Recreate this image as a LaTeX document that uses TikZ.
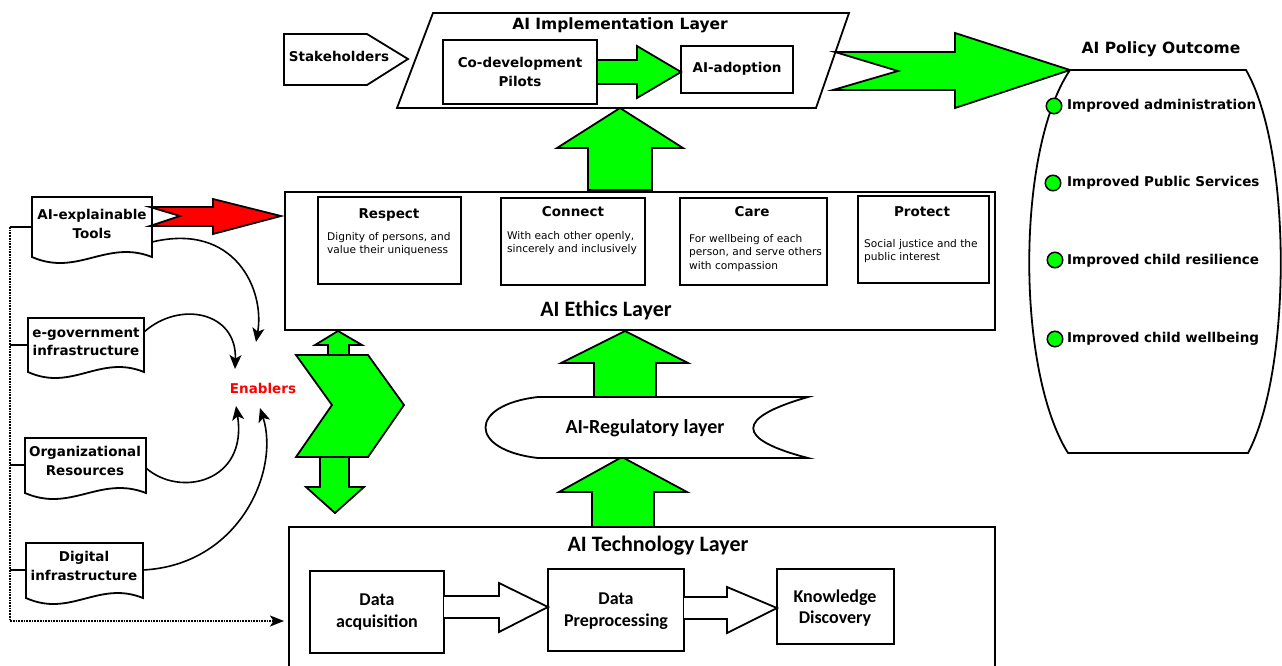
\documentclass[tikz,border=0pt]{standalone}
\usepackage{fontspec}
\setmainfont{DejaVu Sans}
\newfontfamily\calib{Carlito}
\usetikzlibrary{arrows.meta}
\definecolor{grn}{HTML}{00FF00}
\definecolor{rd}{HTML}{FF0000}
\newcommand\fs[1]{\fontsize{#1}{\dimexpr #1pt*6/5\relax}\selectfont}
\begin{document}
\begin{tikzpicture}[x=1pt,y=-1pt,
  ln/.style={draw=black,line width=1.8pt,line join=miter},
  garrow/.style={ln,fill=grn},
  warrow/.style={ln,fill=white},
  bx/.style={draw=black,line width=2pt,fill=white},
  blab/.style={font=\bfseries\fs{13.5},align=center,inner sep=0pt},
  ttl/.style={font=\bfseries\fs{15.5},inner sep=0pt},
  cal/.style={font=\calib\bfseries\fs{18},align=center,inner sep=0pt},
  desc/.style={font=\fontsize{10.6}{13.5}\selectfont,align=left,inner sep=0pt,anchor=north west},
  crv/.style={line width=1.6pt,-{Stealth[length=14pt,width=12pt,inset=3.5pt]}},
  bul/.style={circle,draw=black,line width=1.5pt,fill=grn,minimum size=15.5pt,inner sep=0pt}
]
\useasboundingbox (0,0) rectangle (1282,665);

% ---------- Implementation layer ----------
\draw[ln,fill=white] (433,13) -- (849,13) -- (816,108) -- (397,108) -- cycle;
\node[ttl] (impl) at (620,25) {AI Implementation Layer};
\draw[ln,fill=white] (284,34) -- (367,34) -- (408,59) -- (367,85) -- (284,85) -- cycle;
\node[blab] (stake) at (339,56) {Stakeholders};
\node[bx,minimum width=154pt,minimum height=64pt,blab] (codev) at (520,72) {Co-development\\[2pt]Pilots};
\node[bx,minimum width=112pt,minimum height=47pt,blab] (adopt) at (737,69) {AI-adoption};
\draw[garrow] (597,60) -- (637,60) -- (637,46) -- (681,72) -- (637,98) -- (637,84) -- (597,84) -- cycle;

% big arrow to outcome
\draw[garrow] (835,52) -- (955,52) -- (955,33) -- (1070,70) -- (955,108) -- (955,90) -- (833,90) -- (898,71) -- cycle;

% ---------- Policy outcome ----------
\draw[ln] (1070,70) -- (1246,70) .. controls (1292,150) and (1292,370) .. (1248,453) -- (1068,453) .. controls (1016,370) and (1016,150) .. (1070,70);
\node[ttl] (pol) at (1161,49) {AI Policy Outcome};
\node[bul] (b1) at (1054,106) {};
\node[bul] (b2) at (1053,183) {};
\node[bul] (b3) at (1055,260) {};
\node[bul] (b4) at (1055,339) {};
\node[blab,anchor=west] (o1) at (1067,106) {Improved administration};
\node[blab,anchor=west] (o2) at (1067,183) {Improved Public Services};
\node[blab,anchor=west] (o3) at (1067,261) {Improved child resilience};
\node[blab,anchor=west] (o4) at (1067,339) {Improved child wellbeing};

% ---------- up arrows ----------
\draw[garrow] (588,190) -- (588,148) -- (557,148) -- (620,108) -- (683,148) -- (652,148) -- (652,190) -- cycle;
\draw[garrow] (594,397) -- (594,363) -- (561,363) -- (625,331) -- (688,363) -- (656,363) -- (656,397) -- cycle;
\draw[garrow] (592,527) -- (592,492) -- (559,492) -- (622,457) -- (687,492) -- (654,492) -- (654,527) -- cycle;

% ---------- Ethics layer ----------
\draw[ln,fill=white] (285,192) rectangle (995,330);
\node[font=\calib\bfseries\fs{22},inner sep=0pt] (eth) at (606,311) {AI Ethics Layer};
\draw[bx] (318,197) rectangle (461,284);
\draw[bx] (501,198) rectangle (645,285);
\draw[bx] (680,198) rectangle (827,285);
\draw[bx] (858,196) rectangle (989,283);
\node[blab] (resp) at (389,215) {Respect};
\node[blab] (conn) at (573,212) {Connect};
\node[blab] (care) at (752,212) {Care};
\node[blab] (prot) at (922,212) {Protect};
\node[desc] (d1) at (327,232) {Dignity of persons, and\\value their uniqueness};
\node[desc] (d2) at (507,231) {With each other openly,\\sincerely and inclusively};
\node[desc] (d3) at (689,234) {For wellbeing of each\\person, and serve others\\with compassion};
\node[desc] (d4) at (864,239) {Social justice and the\\public interest};

% ---------- Regulatory ----------
\draw[ln,fill=white] (538,397) -- (808,397) .. controls (735,418) and (735,439) .. (808,458) -- (538,458) .. controls (468,450) and (468,405) .. (538,397) -- cycle;
\node[font=\calib\bfseries\fs{20},inner sep=0pt] (reg) at (645,428) {AI-Regulatory layer};

% ---------- chevron ----------
\draw[garrow] (296,355) -- (368,355) -- (404,405) -- (368,457) -- (296,457) -- (332,405) -- cycle;
\draw[garrow] (328,355) -- (328,345) -- (315,345) -- (338,331) -- (362,345) -- (349,345) -- (349,355) -- cycle;
\draw[garrow] (320,457) -- (320,487) -- (306,487) -- (335,513) -- (364,487) -- (349,487) -- (349,457) -- cycle;

% ---------- Technology layer ----------
\draw[ln] (289,700) -- (289,527) -- (995,527) -- (995,700);
\node[font=\calib\bfseries\fs{22},inner sep=0pt] (tech) at (658,546) {AI Technology Layer};
\draw[bx] (310,571) rectangle (444,653);
\draw[bx] (548,569) rectangle (684,651);
\draw[bx] (777,569) rectangle (894,644);
\node[cal] (acq) at (377,612) {Data\\acquisition};
\node[cal] (pre) at (616,611) {Data\\Preprocessing};
\node[cal] (know) at (835,608) {Knowledge\\Discovery};
\draw[warrow] (444,596) -- (499,596) -- (499,583) -- (548,607) -- (499,632) -- (499,618) -- (444,618);
\draw[warrow] (684,597) -- (727,597) -- (727,587) -- (777,608) -- (727,633) -- (727,619) -- (684,619);

% ---------- left documents ----------
\newcommand\mydoc[4]{\draw[ln,fill=white] (#1,#4) -- (#1,#2) -- (#3,#2) -- (#3,#4) .. controls ({#3-0.38*(#3-#1)},{#4-18}) and ({#1+0.38*(#3-#1)},{#4+20}) .. (#1,#4) -- cycle;}
\mydoc{32}{197}{152}{257}
\mydoc{28}{318}{144}{372}
\mydoc{25}{438}{146}{493}
\mydoc{26}{543}{143}{598}
\node[blab] (aix) at (92,224) {AI-explainable\\[2pt]Tools};
\node[blab] (egov) at (86,342) {e-government\\[2pt]infrastructure};
\node[blab] (org) at (85,461) {Organizational\\[2pt]Resources};
\node[blab] (dig) at (84,566) {Digital\\[2pt]infrastructure};

% stubs and dotted line
\coordinate (s1) at (10,227);
\coordinate (s4) at (10,621);
\coordinate (dotend) at (284,621);
\draw[line width=1.6pt] (s1) -- (32,227);
\draw[line width=1.6pt] (10,345) -- (28,345);
\draw[line width=1.6pt] (10,465) -- (25,465);
\draw[line width=1.6pt] (10,570) -- (26,570);
\draw[densely dotted,line width=1.7pt,-{Stealth[length=14pt,width=11pt,inset=3.5pt]}] (s1) -- (s4) -- (dotend);

% red arrow
\draw[ln,fill=rd] (150,207) -- (213,207) -- (213,199) -- (281,216) -- (213,234) -- (213,226) -- (150,226) -- (180,216) -- cycle;

% Enablers and curves
\node[font=\bfseries\fs{13.5},text=rd,inner sep=0pt] (en) at (263,388) {Enablers};
\draw[crv] (152,242) .. controls (235,222) and (265,290) .. (256,342);
\draw[crv] (144,332) .. controls (180,300) and (237,312) .. (235,369);
\draw[crv] (146,468) .. controls (180,498) and (248,482) .. (236,406);
\draw[crv] (143,570) .. controls (240,565) and (280,470) .. (260,408);
\end{tikzpicture}
\end{document}
